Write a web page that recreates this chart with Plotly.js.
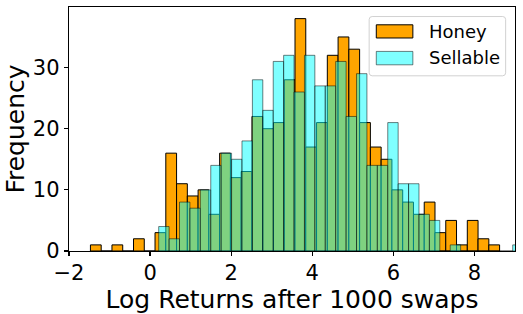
<!DOCTYPE html>
<html><head><meta charset="utf-8">
<script src="https://cdn.plot.ly/plotly-3.0.1.min.js"></script>
<style>html,body{margin:0;padding:0;background:#fff}#chart{width:523px;height:314px}</style>
</head><body><div id="chart"></div>
<script>
// ---- data ----
const seriesNames = ['Honey', 'Sellable'];
const honeyFirstBinLeft = -1.4715;
const honeyBinWidth = 0.26557;
const honeyCounts = [1,0,1,0,2,0,3,16,11,9,10,6,16,12,13,22,20,21,28,38,17,21,32,35,33,21,17,15,10,8,6,8,3,5,1,5,2,1];
const sellableFirstBinLeft = 0.212;
const sellableBinWidth = 0.2568;
const sellableCounts = [4,2,8,7,10,14,16,15,18,28,23,31,32,26,32,27,27,31,22,29,14,14,21,11,11,6,5,0,1,0,0,0,0,0,1];
const xTicks = [-2, 0, 2, 4, 6, 8];
const yTicks = [0, 10, 20, 30];
const xTitle = 'Log Returns after 1000 swaps';
const yTitle = 'Frequency';

const FONT = 'DejaVu Sans, Liberation Sans, sans-serif';
const HONEY_COLOR = '#FFA500';
const SELL_COLOR = 'rgba(0,255,255,0.5)';

const traces = [
  {
    type: 'bar', name: seriesNames[0],
    x0: honeyFirstBinLeft + honeyBinWidth / 2, dx: honeyBinWidth,
    y: honeyCounts, width: honeyBinWidth,
    marker: {color: HONEY_COLOR, line: {color: '#000000', width: 1}},
    hoverinfo: 'skip'
  },
  {
    type: 'bar', name: seriesNames[1],
    x0: sellableFirstBinLeft + sellableBinWidth / 2, dx: sellableBinWidth,
    y: sellableCounts, width: sellableBinWidth,
    marker: {color: SELL_COLOR, line: {color: 'rgba(0,0,0,0.5)', width: 1}},
    hoverinfo: 'skip'
  }
];

// custom legend (matplotlib style: wide patches, rounded frame)
function roundRect(x0, y0, x1, y1, rx, ry) {
  return `M${x0+rx},${y0} L${x1-rx},${y0} Q${x1},${y0} ${x1},${y0+ry} L${x1},${y1-ry} Q${x1},${y1} ${x1-rx},${y1} L${x0+rx},${y1} Q${x0},${y1} ${x0},${y1-ry} L${x0},${y0+ry} Q${x0},${y0} ${x0+rx},${y0} Z`;
}
const rx = 3 / 446, ry = 3 / 244;
const shapes = [
  {type: 'path', xref: 'paper', yref: 'paper', layer: 'above',
   path: roundRect(0.673, 0.718, 0.979, 0.961, rx, ry),
   fillcolor: 'rgba(255,255,255,0.8)', line: {color: 'rgba(204,204,204,0.9)', width: 1}},
  {type: 'rect', xref: 'paper', yref: 'paper', layer: 'above',
   x0: 0.689, x1: 0.771, y0: 0.873, y1: 0.927,
   fillcolor: HONEY_COLOR, line: {color: '#000000', width: 1}},
  {type: 'rect', xref: 'paper', yref: 'paper', layer: 'above',
   x0: 0.689, x1: 0.771, y0: 0.763, y1: 0.818,
   fillcolor: SELL_COLOR, line: {color: 'rgba(0,0,0,0.5)', width: 1}}
];
const annotations = [
  {xref: 'paper', yref: 'paper', x: 0.8036, y: 0.900, xanchor: 'left', yanchor: 'middle',
   text: seriesNames[0], showarrow: false, font: {family: FONT, size: 18, color: '#000'}},
  {xref: 'paper', yref: 'paper', x: 0.8036, y: 0.791, xanchor: 'left', yanchor: 'middle',
   text: seriesNames[1], showarrow: false, font: {family: FONT, size: 18, color: '#000'}}
];

const axisCommon = {
  showline: true, mirror: true, linecolor: '#000', linewidth: 1.2,
  ticks: 'outside', ticklen: 4, tickwidth: 1.2, tickcolor: '#000',
  showgrid: false, zeroline: false,
  tickfont: {family: FONT, size: 21, color: '#000'}
};

const layout = {
  width: 523, height: 314,
  margin: {l: 69, r: 8, t: 7, b: 63, pad: 0},
  paper_bgcolor: '#fff', plot_bgcolor: '#fff',
  barmode: 'overlay', bargap: 0, showlegend: false,
  font: {family: FONT, color: '#000'},
  xaxis: Object.assign({}, axisCommon, {
    range: [-2, 9], tickmode: 'array', tickvals: xTicks,
    ticktext: xTicks.map(v => v < 0 ? '\u2212' + Math.abs(v) : String(v)),
    ticklabelstandoff: -1,
    title: {text: xTitle, font: {family: FONT, size: 25, color: '#000'}, standoff: 0}
  }),
  yaxis: Object.assign({}, axisCommon, {
    range: [0, 39.9], tickmode: 'array', tickvals: yTicks,
    title: {text: yTitle, font: {family: FONT, size: 25, color: '#000'}, standoff: 1}
  }),
  shapes: shapes, annotations: annotations
};

Plotly.newPlot('chart', traces, layout, {staticPlot: true, displayModeBar: false});
</script>
</body></html>
